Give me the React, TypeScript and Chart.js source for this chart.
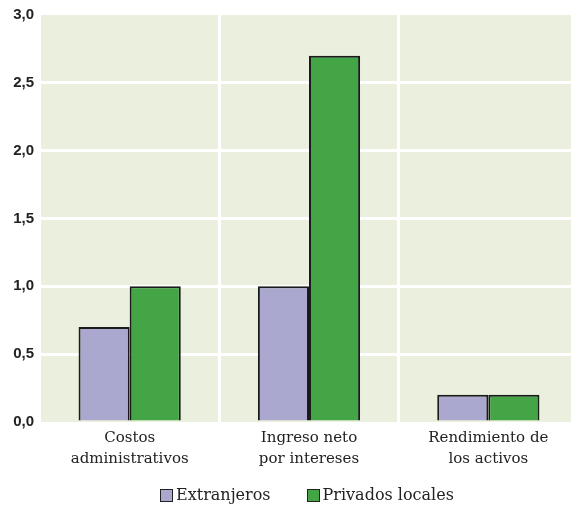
import React, { useEffect, useRef } from "react";
import { Chart, registerables } from "chart.js";

Chart.register(...registerables);

const categories: string[][] = [
  ["Costos", "administrativos"],
  ["Ingreso neto", "por intereses"],
  ["Rendimiento de", "los activos"],
];
const seriesNames = ["Extranjeros", "Privados locales"];
const extranjeros = [0.7, 1.0, 0.2];
const privadosLocales = [1.0, 2.7, 0.2];
const seriesColors = ["#aaa8cf", "#44a547"];

const plotBackground = {
  id: "plotBackground",
  beforeDraw(chart: any) {
    const { ctx, chartArea } = chart;
    ctx.save();
    ctx.fillStyle = "#eaf0dd";
    ctx.fillRect(chartArea.left, chartArea.top, chartArea.right - chartArea.left, chartArea.bottom - chartArea.top);
    ctx.restore();
  },
};

export default function App() {
  const ref = useRef<HTMLCanvasElement | null>(null);

  useEffect(() => {
    if (!ref.current) return;
    const chart = new Chart(ref.current, {
      type: "bar",
      data: {
        labels: categories,
        datasets: [
          {
            label: seriesNames[0],
            data: extranjeros,
            backgroundColor: seriesColors[0],
            borderColor: "#1a1a1a",
            borderWidth: 2,
          },
          {
            label: seriesNames[1],
            data: privadosLocales,
            backgroundColor: seriesColors[1],
            borderColor: "#1a1a1a",
            borderWidth: 2,
          },
        ],
      },
      options: {
        animation: false,
        responsive: false,
        maintainAspectRatio: false,
        layout: { padding: { top: 15, right: 2, left: 0, bottom: 0 } },
        datasets: { bar: { barPercentage: 1, categoryPercentage: 0.57 } },
        plugins: { legend: { display: false }, tooltip: { enabled: false } },
        scales: {
          x: {
            grid: { color: "#ffffff", lineWidth: 3, drawTicks: false, offset: true },
            border: { display: false },
            ticks: {
              color: "#222",
              font: { family: "DejaVu Serif", size: 15, lineHeight: 1.4 },
              padding: 6,
              maxRotation: 0,
              autoSkip: false,
            },
            afterFit: (s: any) => {
              s.height = 84;
            },
          },
          y: {
            min: 0,
            max: 3,
            grid: { color: (c: any) => (c.tick && (c.tick.value === 0 || c.tick.value === 3) ? "rgba(0,0,0,0)" : "#ffffff"), lineWidth: 3, drawTicks: false },
            border: { display: false },
            ticks: {
              stepSize: 0.5,
              color: "#222",
              padding: 6,
              font: { family: "Liberation Sans", size: 15, weight: "bold" },
              callback: (v: any) => Number(v).toFixed(1).replace(".", ","),
            },
            afterFit: (s: any) => {
              s.width = 40;
            },
          },
        },
      },
      plugins: [plotBackground],
    });
    return () => chart.destroy();
  }, []);

  const legendItem = (name: string, color: string, gap: number) => (
    <div style={{ display: "flex", alignItems: "center", marginRight: gap }}>
      <span
        style={{
          display: "inline-block",
          width: 11,
          height: 11,
          background: color,
          border: "1.5px solid #222",
          marginRight: 3,
        }}
      />
      <span>{name}</span>
    </div>
  );

  return (
    <div
      style={{
        position: "fixed",
        left: 0,
        top: 0,
        width: 571,
        height: 506,
        overflow: "hidden",
        background: "#fff",
      }}
    >
      <canvas ref={ref} width={580} height={506} style={{ display: "block" }} />
      <div
        style={{
          position: "absolute",
          top: 484,
          left: 160,
          display: "flex",
          fontFamily: "DejaVu Serif",
          fontSize: 16,
          color: "#222",
          lineHeight: "22px",
        }}
      >
        {legendItem(seriesNames[0], seriesColors[0], 36)}
        {legendItem(seriesNames[1], seriesColors[1], 0)}
      </div>
    </div>
  );
}
